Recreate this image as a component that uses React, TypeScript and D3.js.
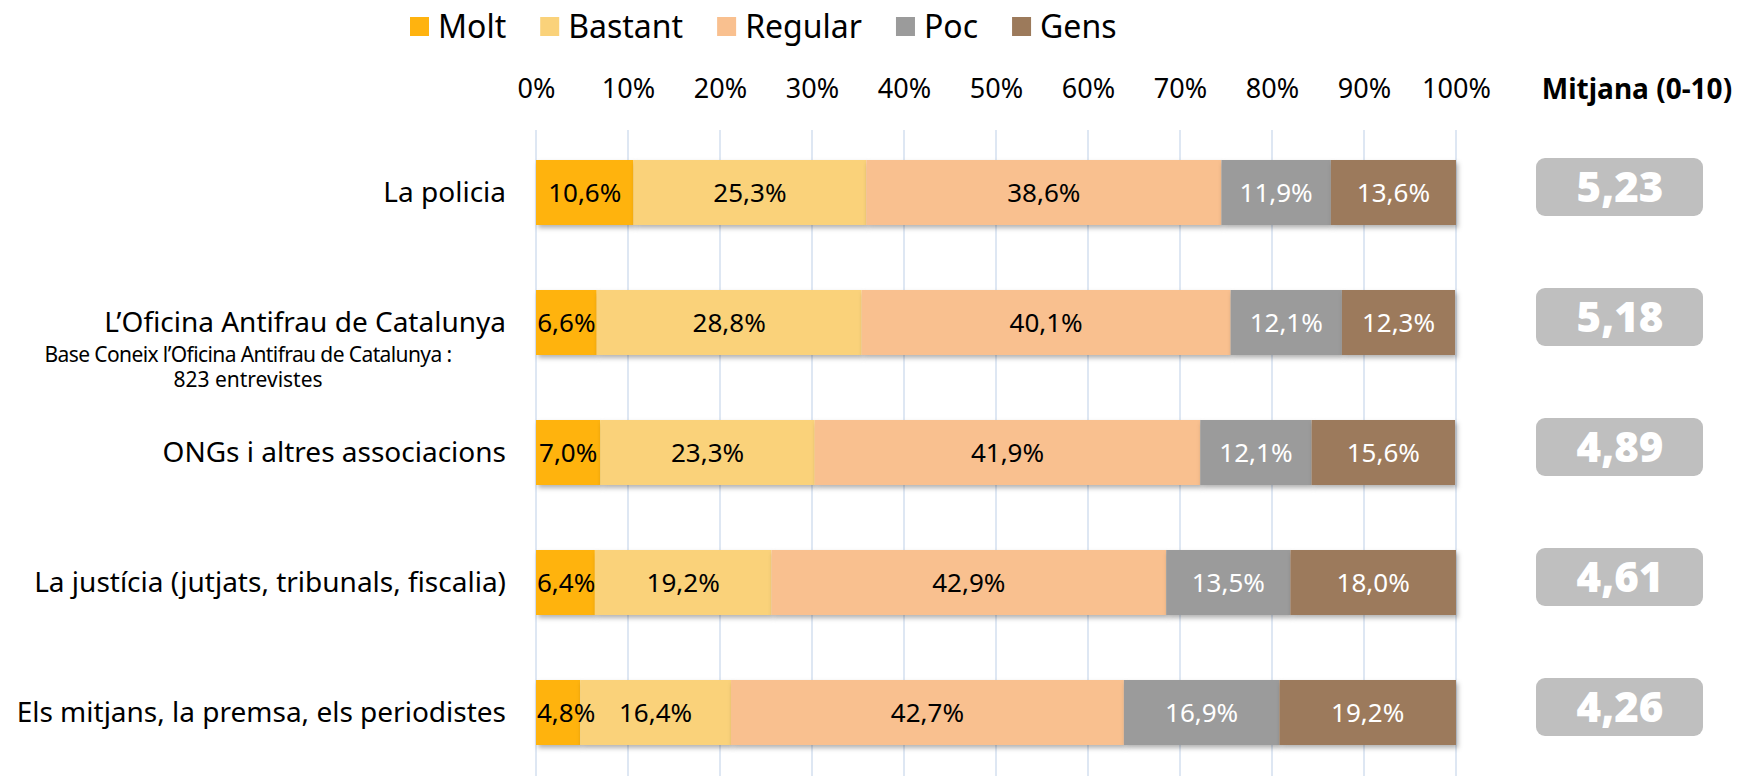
import React, { useEffect, useRef } from "react";
import * as d3 from "d3";

const categories = [
  "La policia",
  "L\u2019Oficina Antifrau de Catalunya",
  "ONGs i altres associacions",
  "La justícia (jutjats, tribunals, fiscalia)",
  "Els mitjans, la premsa, els periodistes",
];
const seriesNames = ["Molt", "Bastant", "Regular", "Poc", "Gens"];
const molt = [10.6, 6.6, 7.0, 6.4, 4.8];
const bastant = [25.3, 28.8, 23.3, 19.2, 16.4];
const regular = [38.6, 40.1, 41.9, 42.9, 42.7];
const poc = [11.9, 12.1, 12.1, 13.5, 16.9];
const gens = [13.6, 12.3, 15.6, 18.0, 19.2];
const mitjana = ["5,23", "5,18", "4,89", "4,61", "4,26"];
const xTicks = [0, 10, 20, 30, 40, 50, 60, 70, 80, 90, 100];
const subLabel = ["Base Coneix l\u2019Oficina Antifrau de Catalunya :", "823 entrevistes"];

const colors = ["#FFB30F", "#FAD27A", "#F9C08F", "#9B9B9B", "#9C7A5B"];
const labelColors = ["#000", "#000", "#000", "#fff", "#fff"];

const W = 1737;
const H = 776;
const FONT = "'Noto Sans', 'Open Sans', sans-serif";

const App = () => {
  const ref = useRef<SVGSVGElement>(null);

  useEffect(() => {
    const svg = d3.select(ref.current);
    svg.selectAll("*").remove();

    const series = [molt, bastant, regular, poc, gens];
    const rows = categories.map((c, i) => {
      const r: any = { name: c };
      seriesNames.forEach((s, k) => (r[s] = series[k][i]));
      return r;
    });
    const stacked = d3.stack().keys(seriesNames)(rows);

    const x = d3.scaleLinear().domain([0, 100]).range([536, 1456]);
    const y = d3
      .scaleBand()
      .domain(categories)
      .range([127.5, 777.5])
      .paddingInner(0.5)
      .paddingOuter(0.25);

    const defs = svg.append("defs");
    const f = defs
      .append("filter")
      .attr("id", "shadow")
      .attr("x", "-5%")
      .attr("y", "-20%")
      .attr("width", "110%")
      .attr("height", "150%");
    f.append("feDropShadow")
      .attr("dx", 2)
      .attr("dy", 3)
      .attr("stdDeviation", 2.5)
      .attr("flood-color", "#000")
      .attr("flood-opacity", 0.3);

    // legend
    const legend = svg.append("g").attr("font-family", FONT).attr("font-size", 32);
    let lx = 410;
    seriesNames.forEach((s, k) => {
      legend
        .append("rect")
        .attr("x", lx)
        .attr("y", 17)
        .attr("width", 19)
        .attr("height", 19)
        .attr("fill", colors[k]);
      const t = legend
        .append("text")
        .attr("x", lx + 28)
        .attr("y", 26.5)
        .attr("dy", "0.35em")
        .attr("fill", "#000")
        .text(s);
      lx += 28 + (t.node() as SVGTextElement).getComputedTextLength() + 34;
    });

    // grid
    svg
      .append("g")
      .selectAll("line")
      .data(xTicks)
      .join("line")
      .attr("x1", (d) => x(d))
      .attr("x2", (d) => x(d))
      .attr("y1", 130)
      .attr("y2", H)
      .attr("stroke", "#D3DFEF")
      .attr("stroke-width", 1.5);

    // top axis
    const axis = svg
      .append("g")
      .attr("transform", "translate(0,89)")
      .call(
        d3
          .axisTop(x)
          .tickValues(xTicks)
          .tickSize(0)
          .tickPadding(0)
          .tickFormat((d) => d + "%")
      );
    axis.select(".domain").remove();
    axis
      .selectAll("text")
      .attr("font-family", FONT)
      .attr("font-size", 27)
      .attr("fill", "#000")
      .attr("dy", "0.35em");

    svg
      .append("text")
      .attr("x", 1637)
      .attr("y", 89)
      .attr("dy", "0.35em")
      .attr("text-anchor", "middle")
      .attr("font-family", FONT)
      .attr("font-weight", "bold")
      .attr("font-size", 28)
      .text("Mitjana (0-10)");

    // bars
    const gBars = svg.append("g");
    stacked.forEach((layer, k) => {
      const g = gBars.append("g").attr("filter", "url(#shadow)");
      g.selectAll("rect")
        .data(layer)
        .join("rect")
        .attr("x", (d) => x(d[0]))
        .attr("y", (d: any) => y(d.data.name)!)
        .attr("width", (d) => x(d[1]) - x(d[0]))
        .attr("height", y.bandwidth())
        .attr("fill", colors[k]);
    });
    stacked.forEach((layer, k) => {
      const g = gBars.append("g").attr("font-family", FONT).attr("font-size", 26);
      g.selectAll("text")
        .data(layer)
        .join("text")
        .attr("text-anchor", "middle")
        .attr("y", (d: any) => y(d.data.name)! + y.bandwidth() / 2)
        .attr("dy", "0.35em")
        .attr("fill", labelColors[k])
        .text((d) => (d[1] - d[0]).toFixed(1).replace(".", ",") + "%")
        .attr("x", function (d) {
          const tw = (this as SVGTextElement).getComputedTextLength();
          return Math.max((x(d[0]) + x(d[1])) / 2, x(d[0]) + tw / 2 + 1);
        });
    });

    // category labels
    svg
      .append("g")
      .selectAll("text")
      .data(categories)
      .join("text")
      .attr("x", 506)
      .attr("y", (d) => y(d)! + y.bandwidth() / 2)
      .attr("dy", "0.35em")
      .attr("text-anchor", "end")
      .attr("font-family", FONT)
      .attr("font-size", 28)
      .attr("fill", "#000")
      .text((d) => d);

    svg
      .append("g")
      .selectAll("text")
      .data(subLabel)
      .join("text")
      .attr("x", 248)
      .attr("y", (d, i) => 355 + i * 25)
      .attr("dy", "0.35em")
      .attr("text-anchor", "middle")
      .attr("font-family", FONT)
      .attr("font-size", 21)
      .attr("letter-spacing", (d, i) => (i === 0 ? -0.6 : 0))
      .attr("fill", "#000")
      .text((d) => d);

    // mitjana boxes
    const mg = svg.append("g");
    mg.selectAll("rect")
      .data(categories)
      .join("rect")
      .attr("x", 1536)
      .attr("y", (d) => y(d)! - 2)
      .attr("width", 167)
      .attr("height", 58)
      .attr("rx", 9)
      .attr("fill", "#BFBFBF");
    mg.selectAll("text")
      .data(categories)
      .join("text")
      .attr("x", 1620)
      .attr("y", (d) => y(d)! + 27)
      .attr("dy", "0.36em")
      .attr("text-anchor", "middle")
      .attr("font-family", FONT)
      .attr("font-weight", 900)
      .attr("font-size", 42)
      .attr("fill", "#fff")
      .text((d, i) => mitjana[i]);
  }, []);

  return (
    <svg
      ref={ref}
      width={W}
      height={H}
      style={{ position: "absolute", left: 0, top: 0, display: "block", background: "#fff" }}
    />
  );
};

export default App;
